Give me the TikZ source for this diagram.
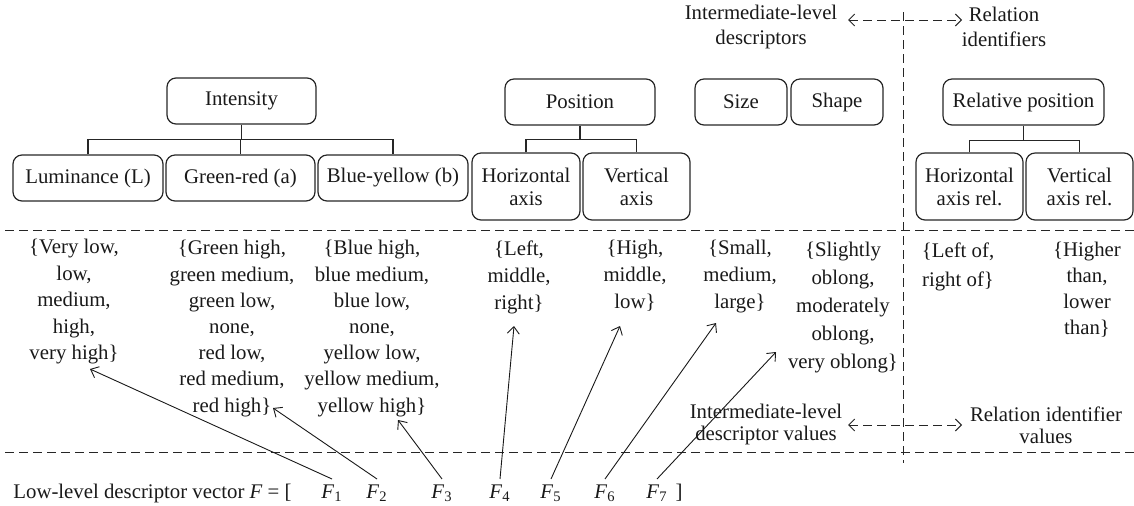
\documentclass[tikz,border=0pt]{standalone}
\usepackage{fontspec}
\setmainfont{Liberation Serif}
\usetikzlibrary{arrows.meta}
\begin{document}
\begin{tikzpicture}[x=0.5pt,y=-0.5pt,
  every node/.style={font=\fontsize{10.4}{11.5}\selectfont, text=black!90},
  box/.style={draw=black!85, line width=0.6pt, rounded corners=4.5pt,
              minimum height=23pt, inner sep=0pt, align=center},
  tall/.style={box, minimum height=33.5pt},
  tree/.style={draw=black!85, line width=0.6pt},
  sep/.style={draw=black!85, line width=0.5pt, dash pattern=on 4.5pt off 2.5pt},
  vals/.style={align=center, anchor=north, inner sep=0pt},
  fv/.style={anchor=base, inner sep=2.5pt},
  ptr/.style={draw=black!90, line width=0.45pt,
              -{Straight Barb[length=3.5pt,width=6pt]}},
  link/.style={sep, {Straight Barb[length=3pt,width=6pt]}-{Straight Barb[length=3pt,width=6pt]}}
]
\useasboundingbox (0,0) rectangle (1134,505);

% descriptor boxes, upper row
\node[box, minimum width=74.5pt] (int)   at (241.5,101) {Intensity};
\node[box, minimum width=75pt]   (pos)   at (580,102)   {Position};
\node[box, minimum width=46pt]   (size)  at (741,102)   {Size};
\node[box, minimum width=46pt]   (shape) at (837,102)   {Shape};
\node[box, minimum width=80.5pt] (rel)   at (1023.5,102) {Relative position};

% descriptor boxes, lower row
\node[box, minimum width=75pt]    (lum)  at (88,178)    {Luminance (L)};
\node[box, minimum width=74.5pt]  (gr)   at (240.5,178) {Green-red (a)};
\node[box, minimum width=75pt]    (by)   at (393,178)   {Blue-yellow (b)};
\node[tall, minimum width=54pt]   (hax)  at (526,186.5) {Horizontal\\axis};
\node[tall, minimum width=53.5pt] (vax)  at (636.5,186.5) {Vertical\\axis};
\node[tall, minimum width=53.5pt] (hrel) at (969.5,186.5) {Horizontal\\axis rel.};
\node[tall, minimum width=53.5pt] (vrel) at (1079.5,186.5) {Vertical\\axis rel.};

% tree links
\draw[tree] (int.south) -- ++(0,15) coordinate (ib);
\draw[tree] (lum.north) |- (ib) -| (by.north);
\draw[tree] (gr.north) -- (gr.north |- ib);
\draw[tree] (pos.south) -- ++(0,14) coordinate (pb);
\draw[tree] (hax.north) |- (pb) -| (vax.north);
\draw[tree] (rel.south) -- ++(0,15) coordinate (rb);
\draw[tree] (hrel.north) |- (rb) -| (vrel.north);

% dashed separators
\coordinate (s1w) at (5,230);  \coordinate (s1e) at (1134,230);
\coordinate (s2w) at (5,452);  \coordinate (s2e) at (1134,452);
\coordinate (vt) at (903,12);  \coordinate (vb) at (903,463);
\draw[sep] (s1w) -- (s1e);
\draw[sep] (s2w) -- (s2e);
\draw[sep] (vt) -- (vb);

% headings
\node[align=center, font=\fontsize{10.4}{12.5}\selectfont] (ild) at (761,27) {Intermediate-level\\descriptors};
\node[align=center, font=\fontsize{10.4}{12.5}\selectfont] (rid) at (1004,27) {Relation\\identifiers};
\coordinate (la) at (848,20); \coordinate (ra) at (962,20);
\draw[link] (la) -- (ra);

% value sets
\node[vals, font=\fontsize{10.4}{13.25}\selectfont] (v1) at (74,239)
  {\{Very low,\\low,\\medium,\\high,\\very high\}};
\node[vals, font=\fontsize{10.4}{13.1}\selectfont] (v2) at (232,240)
  {\{Green high,\\green medium,\\green low,\\none,\\red low,\\red medium,\\red high\}};
\node[vals, font=\fontsize{10.4}{13.1}\selectfont] (v3) at (372,240)
  {\{Blue high,\\blue medium,\\blue low,\\none,\\yellow low,\\yellow medium,\\yellow high\}};
\node[vals, font=\fontsize{10.4}{13.5}\selectfont] (v4) at (519,240)
  {\{Left,\\middle,\\right\}};
\node[vals, font=\fontsize{10.4}{13.5}\selectfont] (v5) at (635,240)
  {\{High,\\middle,\\low\}};
\node[vals, font=\fontsize{10.4}{13.5}\selectfont] (v6) at (740,240)
  {\{Small,\\medium,\\large\}};
\node[vals, font=\fontsize{10.4}{14}\selectfont] (v7) at (843,242)
  {\{Slightly\\oblong,\\moderately\\oblong,\\very oblong\}};
\node[vals, font=\fontsize{10.4}{14.5}\selectfont] (v8) at (958,242)
  {\{Left of,\\right of\}};
\node[vals, font=\fontsize{10.4}{13}\selectfont] (v9) at (1087,242)
  {\{Higher\\than,\\lower\\than\}};

% lower headings
\node[align=center, font=\fontsize{10.4}{11}\selectfont] (ildv) at (766,424) {Intermediate-level\\descriptor values};
\node[align=center, font=\fontsize{10.4}{11}\selectfont] (ridv) at (1046,425) {Relation identifier\\values};
\coordinate (lb) at (848,425); \coordinate (rb2) at (962,425);
\draw[link] (lb) -- (rb2);

% low-level descriptor vector
\node[anchor=base west, inner sep=0pt] (lead) at (13,498) {Low-level descriptor vector \textit{F} = [};
\node[fv] (f1) at (332,498) {\textit{F}\textsubscript{1}};
\node[fv] (f2) at (377,498) {\textit{F}\textsubscript{2}};
\node[fv] (f3) at (442,498) {\textit{F}\textsubscript{3}};
\node[fv] (f4) at (500,498) {\textit{F}\textsubscript{4}};
\node[fv] (f5) at (551,498) {\textit{F}\textsubscript{5}};
\node[fv] (f6) at (605,498) {\textit{F}\textsubscript{6}};
\node[fv] (f7) at (657,498) {\textit{F}\textsubscript{7}};
\node[anchor=base, inner sep=0pt] (rbr) at (679,498) {]};

% pointers from components to value sets
\coordinate (t1) at (90,369);
\coordinate (t2) at (273,408);
\coordinate (t3) at (398,420);
\coordinate (t4) at (514,326);
\coordinate (t5) at (620,326);
\coordinate (t6) at (716,323);
\coordinate (t7) at (776,352);
\draw[ptr] (f1.north) -- (t1);
\draw[ptr] (f2.north) -- (t2);
\draw[ptr] (f3.north) -- (t3);
\draw[ptr] (f4.north) -- (t4);
\draw[ptr] (f5.north) -- (t5);
\draw[ptr] (f6.north) -- (t6);
\draw[ptr] (f7.north) -- (t7);
\end{tikzpicture}
\end{document}
